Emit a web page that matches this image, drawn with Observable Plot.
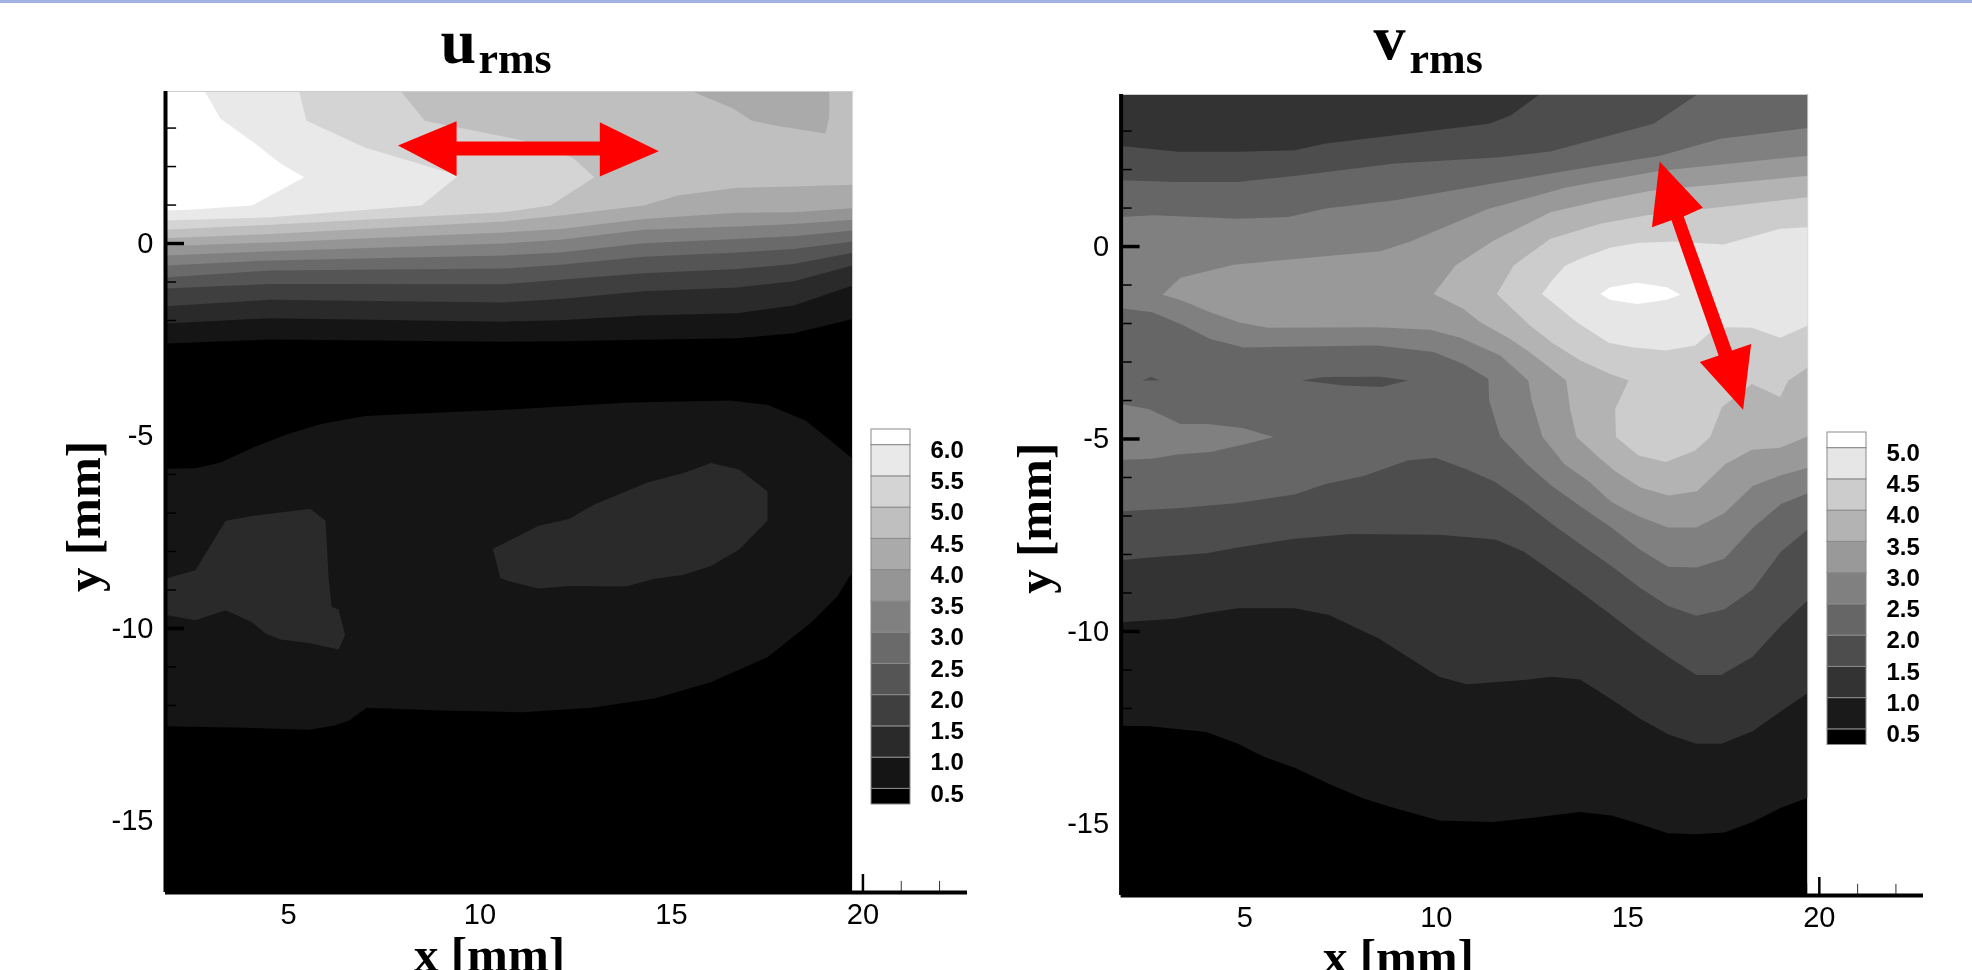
<!DOCTYPE html>
<html>
<head>
<meta charset="utf-8">
<script src="https://cdn.jsdelivr.net/npm/d3@7"></script>
<script src="https://cdn.jsdelivr.net/npm/@observablehq/plot@0.6"></script>
<style>
html,body{margin:0;padding:0;background:#fff;width:1972px;height:970px;overflow:hidden}
#banner{position:absolute;left:0;top:0;width:1972px;height:3px;background:#a2b2e2}
.panel{position:absolute;top:0;filter:blur(0.6px)}
.panel svg{background:transparent;display:block;overflow:visible;max-width:none}
</style>
</head>
<body>
<div id="banner"></div>
<div class="panel" id="left" style="left:0"></div>
<div class="panel" id="right" style="left:986px"></div>
<div class="panel" id="legendL" style="left:860px;top:419px"></div>
<div class="panel" id="legendR" style="left:1816px;top:422px"></div>
<script>
// ---------- u_rms : contour levels and shades ----------
const uThresholds = [0.5,1,1.5,2,2.5,3,3.5,4,4.5,5,5.5,6];
const uGrays = ["#000000","#151515","#2a2a2a","#3f3f3f","#555555","#6a6a6a","#808080","#959595","#aaaaaa","#bfbfbf","#d4d4d4","#e9e9e9","#ffffff"];
const uLegendLabels = ["0.5","1.0","1.5","2.0","2.5","3.0","3.5","4.0","4.5","5.0","5.5","6.0"];
const uEdgeX  = [1.79,4.53,10.61,12.10,14.27,16.72,18.19,19.73];
const uY05 = [-2.60,-2.49,-2.55,-2.54,-2.50,-2.46,-2.33,-1.96];
const uY10 = [-2.08,-1.94,-2.03,-1.99,-1.87,-1.81,-1.61,-1.09];
const uY15 = [-1.63,-1.46,-1.53,-1.44,-1.24,-1.14,-0.98,-0.57];
const uY20 = [-1.17,-1.05,-1.06,-0.94,-0.77,-0.66,-0.53,-0.24];
const uY25 = [-0.88,-0.70,-0.65,-0.55,-0.34,-0.23,-0.14,0.05];
const uY30 = [-0.57,-0.44,-0.31,-0.23,0.01,0.12,0.19,0.34];
const uY35 = [-0.31,-0.20,0,0.10,0.36,0.44,0.51,0.62];
const uY40 = [-0.07,0.03,0.29,0.38,0.64,0.80,0.81,0.92];
const uEdge45 = [[1.79,0.14],[4.53,0.25],[10.61,0.57],[12.10,0.73],[14.27,0.99],[15.16,1.25],[16.72,1.45],[18.19,1.48],[19.73,1.53]];
const uPatch40Top = [[14.48,3.95],[15.55,3.95],[16.61,3.51],[17.10,3.19],[17.85,3.04],[19.02,2.86],[19.12,3.28],[19.12,3.95]];
const uRegion50 = [[1.79,3.95],[7.94,3.95],[8.56,3.19],[11.11,2.68],[12.42,2.23],[12.99,1.72],[11.84,0.99],[10.61,0.81],[4.53,0.49],[1.79,0.36]];
const uRegion55 = [[1.79,3.95],[5.28,3.95],[5.47,3.19],[7.01,2.49],[9.44,1.77],[8.47,0.99],[4.53,0.68],[1.79,0.60]];
const uRegion60 = [[1.79,3.95],[2.82,3.95],[3.22,3.25],[4.13,2.60],[4.79,2.08],[5.41,1.72],[4.05,0.99],[2.41,0.88],[1.79,0.86]];
const uBlob05 = [[1.79,-5.85],[2.57,-5.84],[3.23,-5.69],[4.05,-5.31],[4.95,-4.96],[5.85,-4.69],[7.00,-4.48],[8.97,-4.39],[10.62,-4.32],[13.90,-4.13],[16.53,-4.08],[17.51,-4.19],[18.50,-4.60],[19.15,-5.12],[19.73,-5.59],[19.73,-8.52],[19.32,-9.18],[18.66,-9.84],[17.51,-10.74],[16.03,-11.40],[14.56,-11.82],[12.91,-12.06],[11.11,-12.18],[8.97,-12.13],[7.04,-12.06],[6.59,-12.39],[6.18,-12.53],[5.53,-12.63],[3.88,-12.58],[1.79,-12.54]];
const uBlob10A = [[1.79,-8.71],[2.57,-8.49],[3.36,-7.20],[4.05,-7.08],[5.57,-6.89],[5.97,-7.20],[6.05,-8.71],[6.13,-9.44],[6.31,-9.51],[6.48,-10.17],[6.31,-10.55],[5.53,-10.38],[4.79,-10.29],[4.41,-10.14],[4.05,-9.84],[3.36,-9.53],[2.57,-9.79],[1.79,-9.65]];
const uBlob10B = [[10.34,-7.93],[11.52,-7.34],[12.34,-7.15],[13.00,-6.77],[14.39,-6.20],[15.30,-5.97],[16.03,-5.70],[16.77,-5.87],[17.51,-6.44],[17.51,-7.20],[16.77,-7.95],[16.03,-8.38],[15.30,-8.61],[14.56,-8.71],[13.82,-8.91],[12.34,-8.90],[11.52,-8.96],[10.78,-8.78],[10.53,-8.69]];
const uArrow = [[7.86,2.55],[9.39,3.18],[9.39,2.65],[13.13,2.65],[13.13,3.15],[14.67,2.40],[13.13,1.74],[13.13,2.29],[9.39,2.29],[9.39,1.75]];

// ---------- v_rms : contour levels and shades ----------
const vThresholds = [0.5,1,1.5,2,2.5,3,3.5,4,4.5,5];
const vGrays = ["#000000","#1a1a1a","#333333","#4d4d4d","#666666","#808080","#999999","#b3b3b3","#cccccc","#e6e6e6","#ffffff"];
const vLegendLabels = ["0.5","1.0","1.5","2.0","2.5","3.0","3.5","4.0","4.5","5.0"];
const vLow05 = [[1.77,-12.45],[2.52,-12.46],[4.00,-12.61],[4.82,-12.92],[5.48,-13.25],[6.30,-13.54],[7.20,-13.96],[8.10,-14.34],[8.92,-14.59],[10.07,-14.91],[11.46,-14.95],[12.52,-14.84],[13.75,-14.69],[14.57,-14.78],[15.31,-15.00],[16.05,-15.24],[16.79,-15.27],[17.52,-15.22],[18.26,-14.95],[19.00,-14.58],[19.70,-14.32]];
const vLow10 = [[1.77,-9.76],[3.18,-9.67],[4.00,-9.52],[4.82,-9.40],[6.30,-9.40],[7.20,-9.57],[8.51,-10.19],[9.25,-10.66],[10.07,-11.18],[10.80,-11.37],[12.20,-11.27],[13.02,-11.18],[13.75,-11.25],[14.57,-11.76],[15.31,-12.26],[16.05,-12.67],[16.79,-12.92],[17.44,-12.92],[18.26,-12.59],[19.00,-12.07],[19.70,-11.60]];
const vLow15 = [[1.77,-8.15],[2.52,-8.08],[4.00,-7.97],[4.82,-7.82],[6.30,-7.59],[7.77,-7.47],[10.07,-7.49],[11.54,-7.61],[12.28,-7.92],[13.02,-8.44],[13.75,-8.96],[14.57,-9.57],[15.31,-10.14],[16.05,-10.66],[16.79,-11.13],[17.44,-11.13],[18.26,-10.66],[19.00,-9.85],[19.70,-9.19]];
const vUp15 = [[1.77,2.61],[3.26,2.46],[4.82,2.46],[6.30,2.50],[7.11,2.68],[8.92,2.89],[11.38,3.19],[11.95,3.41],[12.69,3.95]];
const vLow20 = [[1.77,-6.88],[3.34,-6.79],[4.82,-6.66],[6.30,-6.44],[7.11,-6.17],[8.10,-5.96],[9.25,-5.56],[9.98,-5.49],[10.80,-5.79],[11.54,-6.12],[12.28,-6.64],[13.02,-7.21],[13.75,-7.73],[14.57,-8.30],[15.31,-8.86],[16.05,-9.34],[16.79,-9.59],[17.52,-9.43],[18.26,-8.91],[19.00,-7.92],[19.70,-7.35]];
const vUp20 = [[1.77,1.72],[3.18,1.68],[4.82,1.68],[6.46,1.85],[8.92,2.16],[11.67,2.32],[12.98,2.47],[15.67,3.19],[16.81,3.95]];
const vUp25 = [[1.77,0.77],[2.61,0.81],[4.82,0.72],[6.13,0.77],[7.11,0.99],[8.92,1.20],[11.67,1.67],[13.41,1.97],[15.85,2.36],[17.41,2.80],[19.70,3.08]];
const vLow25 = [[19.70,-6.41],[19.00,-6.69],[18.26,-7.31],[17.52,-8.11],[16.79,-8.34],[16.05,-8.32],[15.31,-7.87],[14.57,-7.30],[13.75,-6.74],[13.02,-6.22],[12.36,-5.65],[11.67,-4.94],[11.38,-4.00],[11.36,-3.44],[10.71,-3.05],[9.93,-2.74],[8.45,-2.57],[4.97,-2.62],[4.10,-2.40],[3.32,-2.01],[2.58,-1.71],[1.77,-1.60]];
const vIsland25 = [[1.77,-4.10],[2.49,-4.22],[3.32,-4.61],[4.05,-4.61],[4.97,-4.72],[5.75,-4.95],[4.97,-5.14],[4.10,-5.34],[3.23,-5.40],[2.58,-5.51],[1.77,-5.54]];
const vHoleA = [[2.33,-3.48],[2.55,-3.38],[2.78,-3.48]];
const vHoleB = [[6.49,-3.48],[7.06,-3.39],[8.54,-3.38],[9.26,-3.48],[8.56,-3.65],[7.58,-3.61]];
const vRegion30 = [[2.85,-1.25],[3.32,-0.81],[4.71,-0.47],[8.54,-0.12],[9.32,0.13],[11.38,0.99],[11.67,1.06],[13.41,1.54],[15.85,1.97],[19.70,2.36],[19.70,-5.75],[19.00,-5.94],[18.26,-6.22],[17.52,-6.93],[16.79,-7.30],[16.05,-7.30],[15.31,-7.02],[14.57,-6.64],[14.00,-6.12],[13.34,-5.65],[12.77,-4.94],[12.49,-4.00],[12.40,-3.48],[11.67,-2.83],[10.63,-2.37],[9.84,-2.16],[8.45,-2.10],[5.58,-2.11],[4.84,-1.97],[4.10,-1.71],[3.36,-1.40]];
const vRegion35 = [[9.93,-1.23],[10.50,-0.49],[11.50,0.16],[11.67,0.24],[12.98,0.89],[14.28,1.19],[15.59,1.45],[19.70,1.84],[19.70,-4.93],[18.98,-5.23],[18.24,-5.28],[17.55,-5.65],[16.81,-6.36],[16.07,-6.47],[15.33,-6.26],[14.67,-5.84],[14.18,-5.42],[13.66,-4.95],[13.50,-4.26],[13.39,-3.48],[12.45,-2.75],[11.93,-2.40],[11.15,-1.97],[10.71,-1.62]];
const vRegion40 = [[11.58,-1.23],[12.02,-0.49],[12.98,0.20],[14.28,0.59],[15.50,0.81],[19.70,1.28],[19.70,-3.14],[19.19,-3.48],[18.98,-3.91],[18.24,-3.57],[17.46,-4.17],[17.15,-4.95],[16.76,-5.30],[16.00,-5.60],[15.28,-5.43],[14.69,-4.95],[14.67,-4.22],[15.02,-3.48],[14.54,-3.31],[13.76,-2.96],[13.05,-2.52],[12.40,-2.01]];
const vRegion45 = [[12.76,-1.23],[13.02,-0.88],[13.37,-0.49],[13.85,-0.28],[14.54,-0.03],[15.24,0.09],[16.20,0.13],[17.50,0.05],[18.98,0.46],[19.70,0.50],[19.70,-2.05],[18.98,-2.37],[18.24,-2.11],[17.59,-2.10],[17.15,-2.23],[16.76,-2.57],[16.00,-2.70],[15.15,-2.62],[14.50,-2.50],[13.67,-1.97]];
const vRegion50 = [[14.28,-1.23],[14.54,-1.06],[15.24,-0.94],[16.02,-1.06],[16.37,-1.25],[16.02,-1.38],[15.24,-1.49],[14.54,-1.38]];
const vArrow = [[15.83,2.21],[16.96,1.01],[16.46,0.78],[17.72,-2.70],[18.22,-2.53],[18.01,-4.24],[16.88,-3.00],[17.37,-2.83],[16.14,0.68],[15.63,0.50]];

// ---------- axes ----------
const xTicks = [5,10,15,20];
const xMinor = [21,22];
const yTicks = [0,-5,-10,-15];
const yMinor = [3,2,1,-1,-2,-3,-4,-6,-7,-8,-9,-11,-12,-13,-14,-16];

const zip = (xs, ys) => xs.map((x, i) => [x, ys[i]]);
const table = polys => polys.flatMap(([level, pts], id) => pts.map(([x, y]) => ({x, y, id, level})));

function panel(o) {
  const {x0, x1, y0, y1, xEnd} = o;
  const rows = table(o.polys);
  const arrowRows = o.arrow.map(([x, y]) => ({x, y}));
  return Plot.plot({
    width: 986, height: 970,
    marginLeft: o.m[0], marginRight: o.m[1], marginTop: o.m[2], marginBottom: o.m[3],
    style: {background: "transparent", fontFamily: "Liberation Sans"},
    x: {domain: [x0, x1], axis: null},
    y: {domain: [y0, y1], axis: null},
    color: {type: "threshold", domain: o.thresholds, range: o.grays},
    marks: [
      Plot.rect([0], {x1: x0, x2: xEnd, y1: y0, y2: y1, fill: () => 0.25}),
      Plot.line(rows, {x: "x", y: "y", z: "id", fill: "level", stroke: "none", curve: "linear"}),
      Plot.line(arrowRows, {x: "x", y: "y", fill: "#ff0000", stroke: "none", curve: "linear"}),
      Plot.ruleX([xEnd], {y1: y0 + 0.3, y2: y1, stroke: "#dddddd", strokeWidth: 1}),
      Plot.ruleY([y1], {x1: x0, x2: xEnd, stroke: "#cccccc", strokeWidth: 1}),
      Plot.ruleY(yMinor, {x1: x0, x2: x0 + 0.29, stroke: "#000000", strokeWidth: 1.5}),
      Plot.ruleX(xMinor, {y1: y0, y2: y0 + 0.29, stroke: "#333333", strokeWidth: 1}),
      Plot.axisY({ticks: yTicks, tickFormat: d => String(d), tickSize: -19, tickPadding: 31, fontSize: 29, stroke: "#000", strokeWidth: 3.5, label: null}),
      Plot.axisX({ticks: xTicks, tickFormat: d => String(d), tickSize: -18, tickPadding: 29, fontSize: 29, stroke: "#000", strokeWidth: 2.5, label: null}),
      Plot.ruleX([x0], {y1: y0, y2: y1, stroke: "#000", strokeWidth: 4}),
      Plot.ruleY([y0], {x1: x0, x2: x1, stroke: "#000", strokeWidth: 4}),
      Plot.text([o.titleMain], {x: o.tMainAt[0], y: o.tMainAt[1], textAnchor: "start", lineAnchor: "bottom", fontFamily: "Liberation Serif", fontWeight: "bold", fontSize: 64}),
      Plot.text(["rms"], {x: o.tSubAt[0], y: o.tSubAt[1], textAnchor: "start", lineAnchor: "bottom", fontFamily: "Liberation Serif", fontWeight: "bold", fontSize: 44}),
      Plot.text(["x [mm]"], {x: o.xLabelAt[0], y: o.xLabelAt[1], lineAnchor: "bottom", fontFamily: "Liberation Serif", fontWeight: "bold", fontSize: 49}),
      Plot.text(["y [mm]"], {x: o.yLabelAt[0], y: o.yLabelAt[1], rotate: -90, fontFamily: "Liberation Serif", fontWeight: "bold", fontSize: 49})
    ]
  });
}

function legend(thresholds, grays, labels, top) {
  const bounds = [0.25, ...thresholds, top];
  const bands = grays.map((g, i) => ({lo: bounds[i], hi: bounds[i + 1]}));
  const ticks = thresholds.map((t, i) => ({t, label: labels[i]}));
  return Plot.plot({
    width: 130, height: (top - 0.25) * 62.5 + 20,
    marginLeft: 11, marginRight: 80, marginTop: 10, marginBottom: 10,
    style: {background: "transparent", fontFamily: "Liberation Sans"},
    x: {domain: [0, 1], axis: null},
    y: {domain: [0.25, top], axis: null},
    color: {type: "threshold", domain: thresholds, range: grays},
    marks: [
      Plot.rect(bands, {x1: 0, x2: 1, y1: "lo", y2: "hi", fill: "lo", stroke: "#8a8a8a", strokeWidth: 1}),
      Plot.text(ticks, {x: 1, y: "t", text: "label", textAnchor: "start", dx: 20, dy: 5, fontSize: 24, fontWeight: "bold", fill: "#000"})
    ]
  });
}

document.getElementById("left").append(panel({
  x0: 1.79, x1: 22.73, xEnd: 19.73, y0: -16.86, y1: 3.95, m: [165, 19, 91, 78],
  thresholds: uThresholds, grays: uGrays,
  polys: [
    [0.5, [...zip(uEdgeX, uY05), [19.73,3.95], [1.79,3.95]]],
    [0.5, uBlob05],
    [1.0, uBlob10A],
    [1.0, uBlob10B],
    [1.0, [...zip(uEdgeX, uY10), [19.73,3.95], [1.79,3.95]]],
    [1.5, [...zip(uEdgeX, uY15), [19.73,3.95], [1.79,3.95]]],
    [2.0, [...zip(uEdgeX, uY20), [19.73,3.95], [1.79,3.95]]],
    [2.5, [...zip(uEdgeX, uY25), [19.73,3.95], [1.79,3.95]]],
    [3.0, [...zip(uEdgeX, uY30), [19.73,3.95], [1.79,3.95]]],
    [3.5, [...zip(uEdgeX, uY35), [19.73,3.95], [1.79,3.95]]],
    [4.0, [...zip(uEdgeX, uY40), [19.73,3.95], [1.79,3.95]]],
    [4.5, [...uEdge45, [19.73,3.95], [1.79,3.95]]],
    [4.0, uPatch40Top],
    [5.0, uRegion50],
    [5.5, uRegion55],
    [6.0, uRegion60]
  ],
  arrow: uArrow, titleMain: "u",
  tMainAt: [8.97, 4.70], tSubAt: [9.96, 4.44], xLabelAt: [10.25, -18.91], yLabelAt: [-0.33, -7.09]
}));

document.getElementById("right").append(panel({
  x0: 1.77, x1: 22.72, xEnd: 19.70, y0: -16.86, y1: 3.95, m: [134.6, 49, 94, 75],
  thresholds: vThresholds, grays: vGrays,
  polys: [
    [0.5, [...vLow05, [19.70,3.95], [1.77,3.95]]],
    [1.0, [...vLow10, [19.70,3.95], [1.77,3.95]]],
    [1.5, [...vLow15, [19.70,3.95], ...[...vUp15].reverse()]],
    [2.0, [...vLow20, [19.70,3.95], ...[...vUp20].reverse()]],
    [2.5, [...vUp25, ...vLow25]],
    [2.5, vIsland25],
    [1.5, vHoleA],
    [1.5, vHoleB],
    [3.0, vRegion30],
    [3.5, vRegion35],
    [4.0, vRegion40],
    [4.5, vRegion45],
    [5.0, vRegion50]
  ],
  arrow: vArrow, titleMain: "v",
  tMainAt: [8.36, 4.86], tSubAt: [9.30, 4.52], xLabelAt: [9.01, -18.88], yLabelAt: [-0.47, -7.06]
}));

document.getElementById("legendL").append(legend(uThresholds, uGrays, uLegendLabels, 6.25));
document.getElementById("legendR").append(legend(vThresholds, vGrays, vLegendLabels, 5.25));
</script>
</body>
</html>
